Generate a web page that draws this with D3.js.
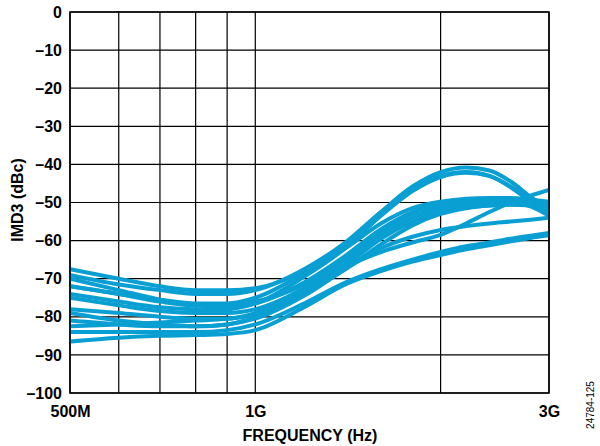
<!DOCTYPE html>
<html><head><meta charset="utf-8">
<script src="https://cdn.jsdelivr.net/npm/d3@7"></script>
<style>body{margin:0;background:#fff}svg{display:block}</style>
</head><body>
<script>
const freqs = [500e6,600e6,700e6,800e6,900e6,1000e6,1200e6,1400e6,1600e6,1800e6,2000e6,2200e6,2400e6,2600e6,2800e6,3000e6];
const p1 = [-72,-74,-75.5,-76.5,-76.5,-75,-68.5,-61,-52.5,-45.8,-42,-40.8,-41.6,-44.5,-48.5,-51.8];
const p2 = [-74,-76,-77.5,-78,-78,-76.5,-69.5,-62,-53.5,-47,-43.3,-42.2,-43,-45.8,-49.3,-52.5];
const p3 = [-69,-71.5,-73,-74,-74,-73,-67.5,-60.5,-52.5,-46.5,-43,-42,-43,-46,-49.8,-53];
const b1 = [-67.5,-70,-72,-73,-73,-72.5,-68,-62,-55.5,-51.5,-49.8,-49,-48.8,-48.8,-49.2,-49.8];
const b2 = [-72,-74,-76,-77,-77,-76,-71.5,-64.5,-57.5,-53,-50.8,-50,-49.8,-49.8,-50,-50.5];
const b3 = [-75,-77,-78.5,-79,-79,-78,-72.5,-65.5,-58.5,-54,-51.5,-50.5,-50.2,-50.2,-50.5,-51];
const b4 = [-78,-79,-80,-80.5,-80.5,-79,-73.5,-66.5,-59.5,-55,-52.5,-51.3,-50.8,-50.6,-50.8,-51.5];
const b5 = [-70,-73,-75.5,-77,-77.5,-76.5,-71,-64,-57,-52.5,-50.5,-49.5,-49.5,-49.8,-51,-53.5];
const b6 = [-82.5,-82,-81.5,-81,-80.5,-79.5,-74,-67.5,-61,-56,-53,-51.5,-50.8,-50.5,-50.5,-51];
const l1 = [-79,-81,-82,-82.5,-82,-80,-73.5,-67,-63,-60.5,-58.5,-55.5,-52.5,-50,-48.2,-46.7];
const l2 = [-81,-82,-82.5,-82.5,-82,-80.5,-74.5,-67.5,-62,-59,-57.2,-56.2,-55.5,-55,-54.5,-54];
const l3 = [-84,-84,-84,-84,-83.5,-82,-76.5,-71,-67.5,-65,-63,-61.5,-60.5,-59.5,-58.7,-58];
const l4 = [-86.5,-85.5,-85,-84.8,-84.5,-83.5,-77.5,-71.5,-68,-65.5,-63.8,-62.3,-61.2,-60.2,-59.3,-58.6];
const seriesList = [p1,p2,p3,b1,b2,b3,b4,b5,b6,l1,l2,l3,l4];
const xGrid = [500e6,600e6,700e6,800e6,900e6,1e9,2e9,3e9];
const xTickVals = [500e6,1e9,3e9];
const xTickLabels = ["500M","1G","3G"];
const yTicks = [0,-10,-20,-30,-40,-50,-60,-70,-80,-90,-100];

const W=600,H=446;
const m={l:70,r:51,t:12,b:53};
const svg=d3.select("body").append("svg").attr("width",W).attr("height",H);
const x=d3.scaleLog().domain([500e6,3e9]).range([m.l,W-m.r]);
const y=d3.scaleLinear().domain([-100,0]).range([H-m.b,m.t]);
const font="Liberation Sans, Arial, sans-serif";

const g=svg.append("g");
g.selectAll("line.v").data(xGrid).enter().append("line")
 .attr("x1",d=>x(d)).attr("x2",d=>x(d)).attr("y1",y(0)).attr("y2",y(-100))
 .attr("stroke","#000").attr("stroke-width",1.2);
g.selectAll("line.h").data(yTicks).enter().append("line")
 .attr("x1",x(500e6)).attr("x2",x(3e9)).attr("y1",d=>y(d)).attr("y2",d=>y(d))
 .attr("stroke","#000").attr("stroke-width",1.2);

svg.append("clipPath").attr("id","c").append("rect")
 .attr("x",m.l).attr("y",m.t).attr("width",W-m.l-m.r).attr("height",H-m.t-m.b);

const line=d3.line().x((d,i)=>x(freqs[i])).y(d=>y(d)).curve(d3.curveMonotoneX);
svg.append("g").attr("clip-path","url(#c)").selectAll("path").data(seriesList).enter().append("path")
 .attr("d",line).attr("fill","none").attr("stroke","#0a9fd3").attr("stroke-width",4)
 .attr("stroke-linejoin","round");

svg.append("rect").attr("x",m.l).attr("y",m.t).attr("width",W-m.l-m.r).attr("height",H-m.t-m.b)
 .attr("fill","none").attr("stroke","#000").attr("stroke-width",1.5);

const yAx=d3.axisLeft(y).tickValues(yTicks).tickSize(0).tickPadding(8)
 .tickFormat(d=>d===0?"0":"\u2013"+Math.abs(d));
const ya=svg.append("g").attr("transform",`translate(${m.l},0)`).call(yAx);
ya.select(".domain").remove();
ya.selectAll("text").attr("font-family",font).attr("font-weight","bold").attr("font-size",16).attr("fill","#000");

const xAx=d3.axisBottom(x).tickValues(xTickVals).tickSize(0).tickPadding(13)
 .tickFormat((d,i)=>xTickLabels[i]);
const xa=svg.append("g").attr("transform",`translate(0,${H-m.b})`).call(xAx);
xa.select(".domain").remove();
xa.selectAll("text").attr("font-family",font).attr("font-weight","bold").attr("font-size",16).attr("fill","#000");

svg.append("text").attr("x",310).attr("y",441).attr("text-anchor","middle")
 .attr("font-family",font).attr("font-weight","bold").attr("font-size",16).text("FREQUENCY (Hz)");
svg.append("text").attr("transform","translate(23,200) rotate(-90)").attr("text-anchor","middle")
 .attr("font-family",font).attr("font-weight","bold").attr("font-size",16).text("IMD3 (dBc)");
svg.append("text").attr("transform","translate(594,405) rotate(-90)").attr("text-anchor","middle")
 .attr("font-family",font).attr("font-size",10).text("24784-125");
</script>
</body></html>
